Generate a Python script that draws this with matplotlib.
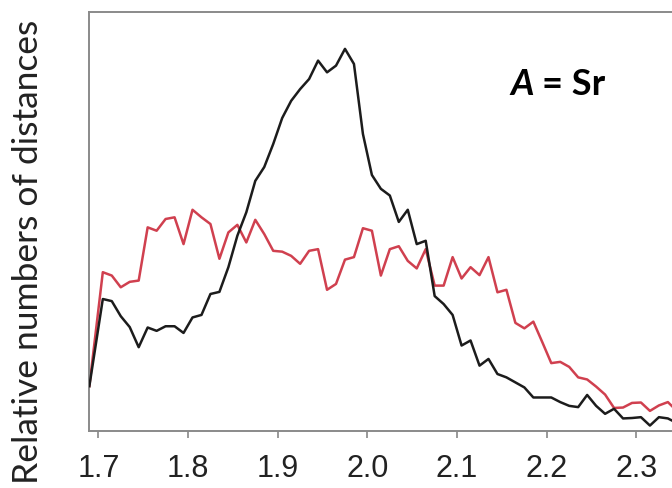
import numpy as np
import matplotlib
matplotlib.use("Agg")
import matplotlib.pyplot as plt

# ===== data (relative units 0-100) =====
x_start = 1.69
bin_centers = np.round(np.arange(1.705, 2.35, 0.01), 3)

sr_values = [10.7,
             37.9, 37.1, 34.3, 35.6, 35.9, 48.6, 47.8, 50.6, 51.0, 44.6,
             52.8, 51.0, 49.4, 41.1, 47.4, 49.2, 45.0, 50.4, 47.0, 43.0,
             42.8, 41.8, 39.9, 43.0, 43.4, 33.7, 35.1, 40.9, 41.5, 48.4,
             47.8, 37.1, 43.4, 44.1, 40.6, 38.8, 43.4, 34.7, 34.7, 41.5,
             36.4, 39.1, 37.2, 41.5, 33.1, 33.7, 25.8, 24.5, 26.1, 21.2,
             16.2, 16.5, 15.3, 12.8, 12.3, 10.6, 8.7, 5.5, 5.6, 6.7,
             6.8, 4.8, 6.1, 6.9, 4.8]

ref_values = [10.7,
              31.5, 31.0, 27.4, 24.8, 20.0, 24.7, 23.9, 25.0, 25.0, 23.4,
              27.1, 27.7, 32.7, 33.2, 39.1, 46.6, 52.2, 59.7, 63.0, 68.5,
              74.7, 78.8, 81.6, 84.0, 88.4, 85.6, 87.2, 91.2, 87.6, 70.9,
              61.1, 57.8, 56.2, 49.9, 52.8, 44.6, 45.4, 32.2, 30.3, 27.7,
              20.4, 21.6, 15.6, 17.2, 13.6, 12.8, 11.6, 10.4, 8.0, 8.0,
              8.0, 6.9, 6.0, 5.7, 8.6, 6.0, 4.1, 5.3, 3.0, 3.1,
              3.3, 1.3, 3.3, 3.0, 1.9]

xticks = [1.7, 1.8, 1.9, 2.0, 2.1, 2.2, 2.3]
xtick_labels = ["1.7", "1.8", "1.9", "2.0", "2.1", "2.2", "2.3"]

x = np.concatenate([[x_start], bin_centers[:len(sr_values) - 1]])

# ===== figure =====
fig = plt.figure(figsize=(6.72, 4.89), dpi=100)
ax = fig.add_axes([89 / 672, 1 - 432 / 489, (672 - 89) / 672, (432 - 13) / 489])

ax.plot(x, ref_values, color="#1c1c1c", lw=1.8, zorder=3)
ax.plot(x, sr_values, color="#d0404f", lw=1.8, zorder=2)

ax.set_xlim(1.6896, 2.3396)
ax.set_ylim(0, 100)

ax.set_xticks(xticks)
ax.set_xticklabels(xtick_labels, fontsize=22, family="Liberation Sans", color="#222222")
ax.set_yticks([])
ax.tick_params(axis="x", direction="out", length=5, width=1.2, color="#888888", pad=11)

for side in ["left", "bottom", "top"]:
    ax.spines[side].set_color("#8a8a8a")
    ax.spines[side].set_linewidth(1.4)
ax.spines["right"].set_visible(False)

ax.set_ylabel("Relative numbers of distances", fontsize=25.5, family="Lato",
              color="#222222")
ax.yaxis.set_label_coords(-0.078, 0.43)

# label "A = Sr"
ax.text(0.763, 0.83, "A", transform=ax.transAxes, fontsize=26, family="Lato",
        fontweight="bold", fontstyle="italic", ha="right", va="center")
ax.text(0.777, 0.83, "= Sr", transform=ax.transAxes, fontsize=26, family="Lato",
        fontweight="bold", ha="left", va="center")

fig.savefig("out.png", dpi=100)
